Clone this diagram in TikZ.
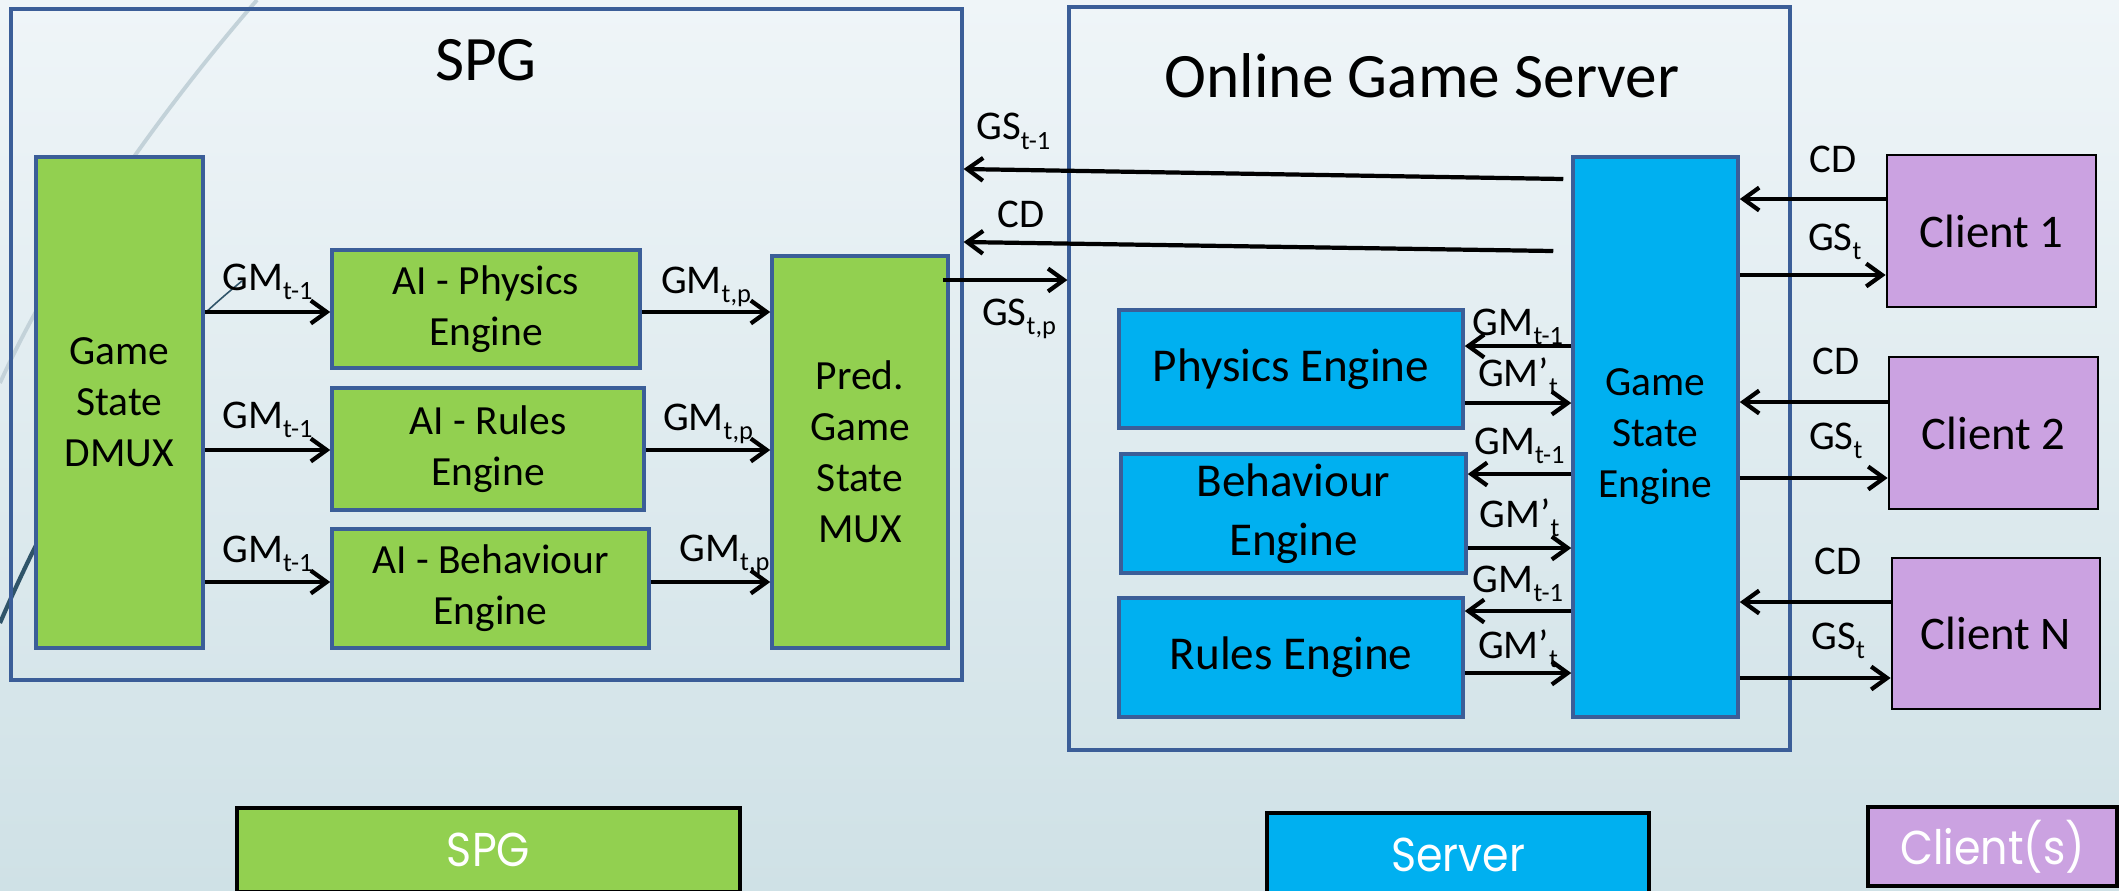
\documentclass[tikz,border=0pt]{standalone}
\usepackage{fontspec}
\setmainfont{Carlito}
\newfontfamily\legendfont{Poppins}[FakeStretch=0.9]
\usetikzlibrary{arrows.meta}

\definecolor{frameblue}{HTML}{3B5E98}
\definecolor{boxgreen}{HTML}{92D050}
\definecolor{boxblue}{HTML}{00B0F0}
\definecolor{boxpurple}{HTML}{CBA2E1}
\definecolor{bgtop}{HTML}{EFF5F8}
\definecolor{bgbottom}{HTML}{CFE1E6}
\definecolor{swooshlight}{HTML}{C3D2D9}
\definecolor{swooshdark}{HTML}{2F5469}

% small lowered index used in the signal labels
\newcommand\lsub[1]{\raisebox{-0.5ex}{\fontsize{7.5}{8}\selectfont #1}}

\begin{document}
\begin{tikzpicture}[x=0.01cm, y=-0.01cm,
  wh/.style 2 args={minimum width={#1*0.01cm}, minimum height={#2*0.01cm}},
  frame/.style={draw=frameblue, line width=0.9pt, inner sep=0pt},
  basebox/.style={draw=frameblue, line width=1pt, align=center, inner sep=0pt},
  gbox/.style={basebox, fill=boxgreen, font=\fontsize{11.8}{14.5}\selectfont},
  sbox/.style={basebox, fill=boxblue, font=\fontsize{13.4}{16.6}\selectfont},
  nbox/.style={basebox, fill=boxblue, font=\fontsize{11.8}{14.5}\selectfont},
  cbox/.style={draw=black, line width=0.8pt, fill=boxpurple, inner sep=0pt,
    font=\fontsize{13.3}{16}\selectfont},
  legend/.style={draw=black, line width=1.1pt, inner sep=0pt, text=white,
    font=\legendfont\fontsize{13.5}{16}\selectfont},
  title/.style={anchor=base, inner sep=0pt, font=\fontsize{18}{22}\selectfont},
  arr/.style={-{Straight Barb[length=4.5pt,width=6.5pt]}, line width=1.2pt},
  lab/.style={anchor=base, inner sep=0pt, font=\fontsize{11.6}{13}\selectfont}]

% page and slide background
\path[use as bounding box] (0,0) rectangle (2119,890);
\clip (0,0) rectangle (2119,890);
\shade[top color=bgtop, bottom color=bgbottom] (0,0) rectangle (2119,890);

% decorative swooshes on the left edge
\draw[swooshlight, line width=1.1pt] (257,0) .. controls (170,100) and (60,250) .. (0,383);
\draw[swooshdark, line width=1.2pt] (0,623) .. controls (25,565) and (70,470) .. (120,405);
\draw[swooshdark, line width=0.45pt] (120,405) .. controls (160,355) and (200,315) .. (242,281);

% enclosing frames
\node[frame, wh={951}{671}] (spgframe) at (486.5,344.5) {};
\node[frame, wh={721}{743}] (srvframe) at (1429.5,378.5) {};
\node[title] (spgtitle) at (486,80) {SPG};
\node[title] (srvtitle) at (1422,97) {Online Game Server};

% SPG blocks
\node[gbox, wh={167}{491}] (dmux) at (119.5,402.5) {Game\\State\\DMUX};
\node[gbox, wh={308}{118}] (aiphys) at (486,309) {AI - Physics\\Engine};
\node[gbox, wh={312}{122}] (airules) at (488,449) {AI - Rules\\Engine};
\node[gbox, wh={317}{119}] (aibeh) at (490.5,588.5) {AI - Behaviour\\Engine};
\node[gbox, wh={176}{392}] (mux) at (860,452) {Pred.\\Game\\State\\MUX};

% server blocks
\node[sbox, wh={344}{118}] (phys) at (1291,369) {Physics Engine};
\node[sbox, wh={345}{119}] (beh) at (1293.5,513.5) {Behaviour\\Engine};
\node[sbox, wh={344}{119}] (rules) at (1291,657.5) {Rules Engine};
\node[nbox, wh={165}{560}] (gse) at (1655.5,437) {Game\\State\\Engine};

% clients
\node[cbox, wh={209}{152}] (c1) at (1991.5,231) {Client 1};
\node[cbox, wh={209}{152}] (c2) at (1993.5,433) {Client 2};
\node[cbox, wh={208}{151}] (cN) at (1996,633.5) {Client N};

% key
\node[legend, fill=boxgreen, wh={503}{84}] (keyspg) at (488.5,850) {SPG};
\node[legend, fill=boxblue, wh={382}{84}] (keysrv) at (1458,855) {Server};
\node[legend, fill=boxpurple, wh={249}{79}] (keycli) at (1992.5,846.5) {Client(s)};

% DMUX to AI engines
\draw[arr] (dmux.east |- 0,312) -- node[lab, yshift=.22cm]{GM\lsub{t-1}} (aiphys.west |- 0,312);
\draw[arr] (dmux.east |- 0,450) -- node[lab, yshift=.22cm]{GM\lsub{t-1}} (airules.west |- 0,450);
\draw[arr] (dmux.east |- 0,582) -- node[lab, yshift=.20cm]{GM\lsub{t-1}} (aibeh.west |- 0,582);

% AI engines to MUX
\draw[arr] (aiphys.east |- 0,312) -- node[lab, yshift=.19cm]{GM\lsub{t,p}} (mux.west |- 0,312);
\draw[arr] (airules.east |- 0,450) -- node[lab, yshift=.20cm]{GM\lsub{t,p}} (mux.west |- 0,450);
\draw[arr] (aibeh.east |- 0,582) -- node[lab, yshift=.21cm, xshift=.14cm]{GM\lsub{t,p}} (mux.west |- 0,582);

% between SPG and server
\draw[arr] ([xshift=-0.08cm]gse.west |- 0,179) -- node[pos=.917, lab, yshift=.30cm]{GS\lsub{t-1}} (spgframe.east |- 0,169);
\draw[arr] ([xshift=-0.18cm]gse.west |- 0,251) -- node[pos=.902, lab, yshift=.15cm]{CD} (spgframe.east |- 0,242);
\draw[arr] ([xshift=-0.07cm]mux.east |- 0,280) -- node[lab, yshift=-.45cm, xshift=.14cm]{GS\lsub{t,p}} (srvframe.west |- 0,280);

% game state engine and the rule engines
\draw[arr] (gse.west |- 0,346) -- node[lab, yshift=.11cm]{GM\lsub{t-1}} (phys.east |- 0,346);
\draw[arr] (phys.east |- 0,403) -- node[lab, yshift=.17cm]{GM’\lsub{t}} (gse.west |- 0,403);
\draw[arr] (gse.west |- 0,474) -- node[lab, yshift=.20cm]{GM\lsub{t-1}} (beh.east |- 0,474);
\draw[arr] (beh.east |- 0,548) -- node[lab, yshift=.21cm]{GM’\lsub{t}} (gse.west |- 0,548);
\draw[arr] (gse.west |- 0,611) -- node[lab, yshift=.19cm]{GM\lsub{t-1}} (rules.east |- 0,611);
\draw[arr] (rules.east |- 0,673) -- node[lab, yshift=.15cm]{GM’\lsub{t}} (gse.west |- 0,673);

% clients and the game state engine
\draw[arr] (c1.west |- 0,199) -- node[lab, yshift=.26cm, xshift=.20cm]{CD} (gse.east |- 0,199);
\draw[arr] (gse.east |- 0,275) -- node[lab, yshift=.25cm, xshift=.22cm]{GS\lsub{t}} (c1.west |- 0,275);
\draw[arr] (c2.west |- 0,402) -- node[lab, yshift=.28cm, xshift=.22cm]{CD} (gse.east |- 0,402);
\draw[arr] (gse.east |- 0,478) -- node[lab, yshift=.29cm, xshift=.22cm]{GS\lsub{t}} (c2.west |- 0,478);
\draw[arr] (cN.west |- 0,602) -- node[lab, yshift=.28cm, xshift=.23cm]{CD} (gse.east |- 0,602);
\draw[arr] (gse.east |- 0,678) -- node[lab, yshift=.29cm, xshift=.23cm]{GS\lsub{t}} (cN.west |- 0,678);
\end{tikzpicture}
\end{document}
